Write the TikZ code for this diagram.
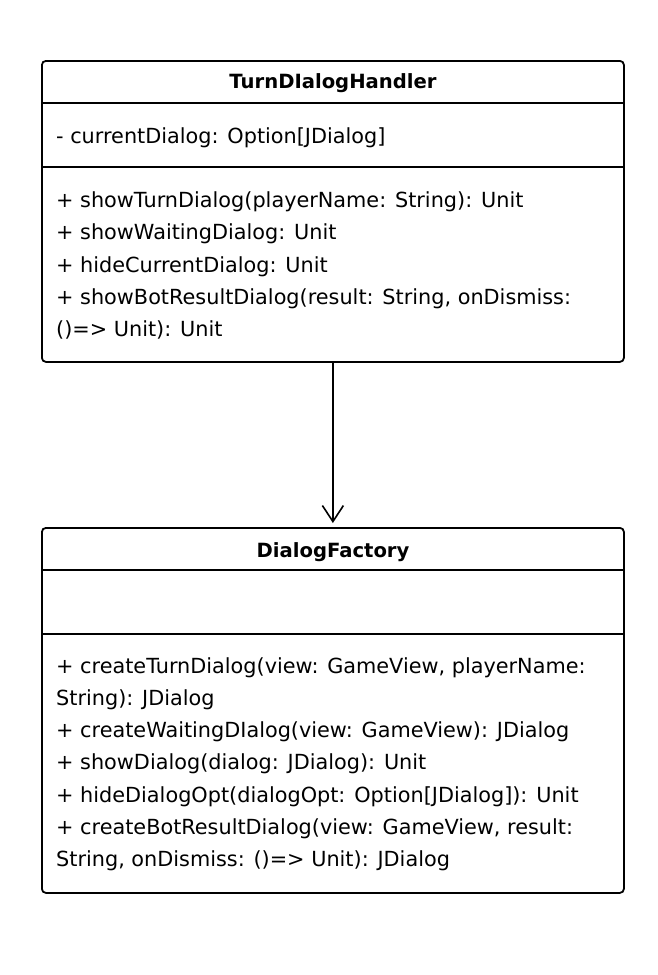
\documentclass[tikz,border=0pt]{standalone}
\usepackage{fontspec}
\setmainfont{DejaVu Sans}
\usetikzlibrary{arrows.meta}
\begin{document}
\begin{tikzpicture}[x=1pt,y=-1pt,
  classbox/.style={draw=black,line width=1.8pt,rounded corners=4pt,fill=white,inner sep=0pt},
  divider/.style={line width=1.8pt},
  txt/.style={anchor=base west,inner sep=0pt,font=\fontsize{20.8}{24}\selectfont},
  ttl/.style={anchor=base,inner sep=0pt,font=\fontsize{19.6}{24}\selectfont\bfseries},
  dep/.style={line width=1.6pt,-{Straight Barb[length=16pt,width=21pt,line width=1.6pt]}}]
\useasboundingbox (0,0) rectangle (658,975);
% top class
\node[classbox,minimum width=582pt,minimum height=301pt,anchor=north west] (tdh) at (41,60) {};
\draw[divider] (41,103) -- (623,103);
\draw[divider] (41,167) -- (623,167);
\node[ttl] (tdhT) at (333,88) {TurnDIalogHandler};
\node[txt] (a1) at (56,143) {- currentDialog: Option[JDialog]};
\node[txt] (m1) at (56,207) {+ showTurnDialog(playerName: String): Unit};
\node[txt] (m2) at (56,239.5) {+ showWaitingDialog: Unit};
\node[txt] (m3) at (56,272) {+ hideCurrentDialog: Unit};
\node[txt] (m4) at (56,304) {+ showBotResultDialog(result: String, onDismiss:};
\node[txt] (m5) at (56,336.5) {()=> Unit): Unit};
% bottom class
\node[classbox,minimum width=582pt,minimum height=365pt,anchor=north west] (df) at (41,527) {};
\draw[divider] (41,570) -- (623,570);
\draw[divider] (41,634) -- (623,634);
\node[ttl] (dfT) at (333,557) {DialogFactory};
\node[txt] (n1) at (56,673) {+ createTurnDialog(view: GameView, playerName:};
\node[txt] (n2) at (56,705) {String): JDialog};
\node[txt] (n3) at (56,737.5) {+ createWaitingDIalog(view: GameView): JDialog};
\node[txt] (n4) at (56,769.5) {+ showDialog(dialog: JDialog): Unit};
\node[txt] (n5) at (56,802) {+ hideDialogOpt(dialogOpt: Option[JDialog]): Unit};
\node[txt] (n6) at (56,834) {+ createBotResultDialog(view: GameView, result:};
\node[txt] (n7) at (56,866.5) {String, onDismiss: ()=> Unit): JDialog};
% dependency
\draw[dep] (tdh.south) -- ([yshift=4pt]df.north);
\end{tikzpicture}
\end{document}
